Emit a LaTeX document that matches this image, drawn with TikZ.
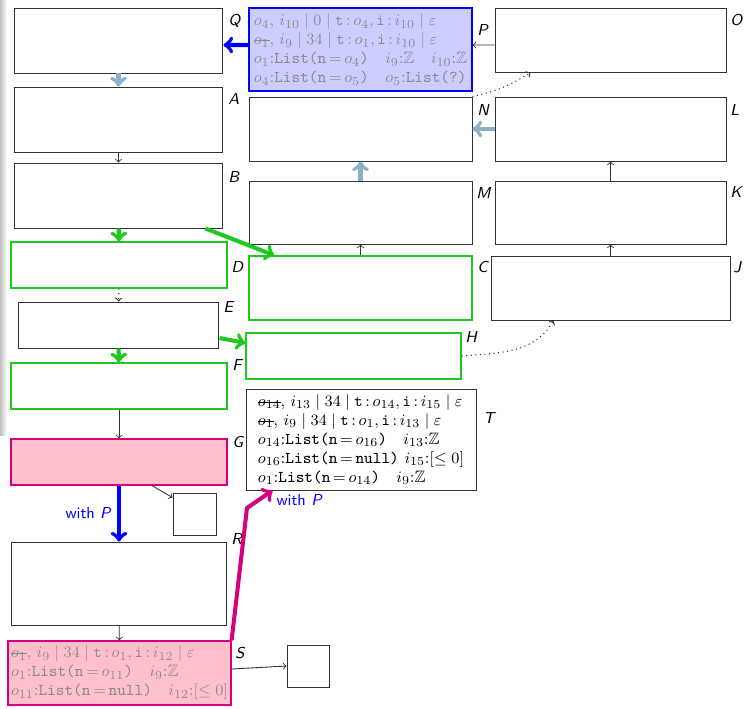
\documentclass[tikz,border=0pt]{standalone}
\usepackage{amssymb}
\usepackage{tikz}
\usetikzlibrary{positioning, calc, arrows}
\definecolor{mylavender}{HTML}{CCCCFF}
\definecolor{mypink}{HTML}{FFC0CB}
\definecolor{mymagenta}{HTML}{D6007E}
\definecolor{mygreen}{HTML}{1EC81E}
\definecolor{mysteel}{HTML}{8AB1C8}
\newcommand{\strk}[1]{\setbox0\hbox{$#1$}\rlap{\rule[0.5ex]{\wd0}{0.6pt}}\box0}
\newcommand{\lst}[1]{\texttt{List(n}$\,{=}\,#1$\texttt{)}}
\tikzset{
	box/.style 2 args={draw=black!80, line width=0.55pt, inner sep=0pt,
			minimum width=#1cm, minimum height=#2cm}
}
\tikzset{
	hl/.style={draw=#1, line width=0.7pt}
}
\tikzset{
	stmt/.style={font=\fontsize{9.4}{10.8}\selectfont, align=left}
}
\tikzset{
	lbl/.style={font=\small\sffamily\itshape, inner sep=0pt, anchor=base west}
}
\tikzset{
	withp/.style={font=\small\sffamily, text=blue, inner sep=1pt}
}
\tikzset{
	fat/.style={->, line width=2.3pt},
	thinarr/.style={->, black!80, line width=0.5pt},
	dotarr/.style={->, black!80, dotted, line width=0.6pt}
}

\begin{document}
\begin{tikzpicture}[x=0.02cm, y=-0.02cm]

	\useasboundingbox (0,0) rectangle (747,708);
	\shade[left color=black!25, right color=white] (0,0) rectangle (7,435);

	\begin{scope}
		\node[box={4.18}{1.30}] (Q) at (118.5,40.5) {};
		\node[box={4.18}{1.30}] (A) at (118.5,119.5) {};
		\node[box={4.18}{1.30}] (B) at (118.5,195.5) {};
		\node[box={4.32}{0.92}, hl=mygreen] (D) at (119,265) {};
		\node[box={4.02}{0.92}] (E) at (118.5,325) {};
		\node[box={4.32}{0.92}, hl=mygreen] (F) at (119,386) {};
		\node[box={4.32}{0.92}, hl=mymagenta, fill=mypink] (G) at (119,462) {};
		\node[box={0.86}{0.84}] (Gx) at (194.5,514) {};
		\node[box={4.32}{1.66}] (R) at (119,583.5) {};
		\node[box={4.46}{1.28}, hl=mymagenta, fill=mypink, text=black!45, stmt] (S) at (119.5,673) {%
			\strk{o_1}$,\, i_9 \mid 34 \mid \mathtt{t}\,{:}\,o_1,\mathtt{i}\,{:}\,i_{12} \mid \varepsilon$\\
			$o_1$:\lst{o_{11}}\quad $i_9$:$\mathbb{Z}$\\
			$o_{11}$:\texttt{List(n}$\,{=}\,$\texttt{null)}\quad $i_{12}$:$[\leq 0]$};
		\node[box={0.84}{0.84}] (Sx) at (308,666) {};
	\end{scope}

	\begin{scope}
		\node[box={4.46}{1.66}, hl=blue, fill=mylavender, text=black!45, stmt] (P) at (360.5,49.5) {%
			$o_4,\, i_{10} \mid 0 \mid \mathtt{t}\,{:}\,o_4,\mathtt{i}\,{:}\,i_{10} \mid \varepsilon$\\
			\strk{o_1}$,\, i_9 \mid 34 \mid \mathtt{t}\,{:}\,o_1,\mathtt{i}\,{:}\,i_{10} \mid \varepsilon$\\
			$o_1$:\lst{o_4}\quad $i_9$:$\mathbb{Z}$\quad $i_{10}$:$\mathbb{Z}$\\
			$o_4$:\lst{o_5}\quad $o_5$:\texttt{List(?)}};
		\node[box={4.46}{1.28}] (N) at (360.5,129) {};
		\node[box={4.46}{1.26}] (M) at (360.5,212.5) {};
		\node[box={4.46}{1.28}, hl=mygreen] (C) at (360.5,288) {};
		\node[box={4.30}{0.92}, hl=mygreen] (H) at (353.5,356) {};
		\node[box={4.60}{2.02}, stmt] (T) at (361,439.5) {%
			\strk{o_{14}}$,\, i_{13} \mid 34 \mid \mathtt{t}\,{:}\,o_{14},\mathtt{i}\,{:}\,i_{15} \mid \varepsilon$\\
			\strk{o_1}$,\, i_9 \mid 34 \mid \mathtt{t}\,{:}\,o_1,\mathtt{i}\,{:}\,i_{13} \mid \varepsilon$\\
			$o_{14}$:\lst{o_{16}}\quad $i_{13}$:$\mathbb{Z}$\\
			$o_{16}$:\texttt{List(n}$\,{=}\,$\texttt{null)} $i_{15}$:$[\leq 0]$\\
			$o_1$:\lst{o_{14}}\quad $i_9$:$\mathbb{Z}$};
	\end{scope}

	\begin{scope}
		\node[box={4.62}{1.28}] (O) at (610.5,40) {};
		\node[box={4.62}{1.28}] (L) at (610.5,129) {};
		\node[box={4.62}{1.26}] (K) at (610.5,212.5) {};
		\node[box={4.78}{1.28}] (J) at (610.5,288) {};
	\end{scope}

	\begin{scope}
		\node[lbl] (lQ) at (228,25) {Q};
		\node[lbl] (lA) at (228,104) {A};
		\node[lbl] (lB) at (228,182) {B};
		\node[lbl] (lD) at (231,272) {D};
		\node[lbl] (lE) at (223,312) {E};
		\node[lbl] (lF) at (232,370) {F};
		\node[lbl] (lG) at (232,447) {G};
		\node[lbl] (lR) at (231,544) {R};
		\node[lbl] (lS) at (235,658) {S};
		\node[lbl] (lP) at (477,35) {P};
		\node[lbl] (lN) at (477,115) {N};
		\node[lbl] (lM) at (476,198) {M};
		\node[lbl] (lC) at (477,272) {C};
		\node[lbl] (lH) at (465,342) {H};
		\node[lbl] (lT) at (483,423) {T};
		\node[lbl] (lO) at (730,25) {O};
		\node[lbl] (lL) at (730,115) {L};
		\node[lbl] (lK) at (730,197) {K};
		\node[lbl] (lJ) at (733,272) {J};
	\end{scope}

	\draw[fat, mysteel] (Q) -- (A);
	\draw[thinarr] (A) -- (B);
	\draw[fat, mygreen] (B) -- (D);
	\draw[fat, mygreen] ([xshift=-0.36cm]B.south east) -- ([xshift=0.52cm]C.north west);
	\draw[dotarr] (D) -- (E);
	\draw[fat, mygreen] (E) -- (F);
	\draw[fat, mygreen] ([yshift=-0.26cm]E.east) -- ([yshift=0.26cm]H.west);
	\draw[thinarr] (F) -- (G);
	\draw[thinarr] ([xshift=0.66cm]G.south) -- ([yshift=-0.1cm]Gx.north west);
	\draw[fat, blue] (G) -- node[withp, left=2pt] (wp1) {with \textit{P}} (R);
	\draw[thinarr] (R) -- (S);
	\draw[thinarr] ([yshift=0.08cm]S.east) -- (Sx.west);

	\coordinate (kink) at (247,508);
	\draw[fat, mymagenta] (S.north east) -- (kink) -- ([xshift=0.54cm]T.south west);
	\node[withp, anchor=north west] (wp2) at ([xshift=0.58cm, yshift=-0.04cm]T.south west) {with \textit{P}};

	\draw[fat, blue] ([yshift=0.09cm]P.west) -- ([yshift=-0.09cm]Q.east);
	\draw[thinarr] ([yshift=-0.1cm]O.west) -- ([yshift=0.09cm]P.east);
	\draw[dotarr] (N.north east) to[bend right=10] ([xshift=-1.6cm]O.south);
	\draw[fat, mysteel] (L) -- (N);
	\draw[thinarr] (K) -- (L);
	\draw[thinarr] (J) -- (K);
	\draw[thinarr] (C) -- (M);
	\draw[fat, mysteel] (M) -- (N);
	\draw[dotarr] (H.east) to[out=5, in=-120] ([xshift=-1.14cm]J.south);

\end{tikzpicture}
\end{document}
